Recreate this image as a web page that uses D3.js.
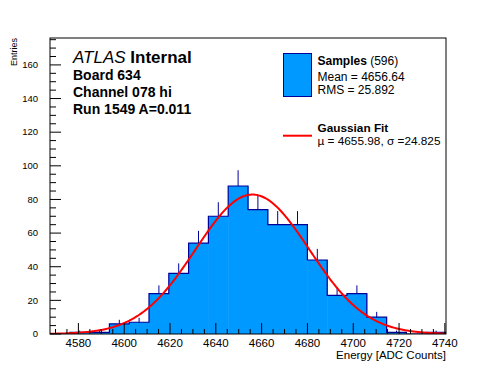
<!DOCTYPE html>
<html>
<head>
<meta charset="utf-8">
<script src="https://cdn.jsdelivr.net/npm/d3@7"></script>
<style>
  html, body { margin: 0; padding: 0; background: #fff; }
  svg { display: block; font-family: "Liberation Sans", Arial, Helvetica, sans-serif; }
</style>
</head>
<body>
<div id="chart"></div>
<script>
// ---- data ----
const BIN_COUNTS = [0, 1, 1, 6, 7, 24, 36, 54, 70, 88, 74, 65, 65, 44, 23, 24, 10, 1, 0, 1];
const X_RANGE = [4567.6, 4740.5];
const X_TICKS = [4580, 4600, 4620, 4640, 4660, 4680, 4700, 4720, 4740];
const Y_TICKS = [0, 20, 40, 60, 80, 100, 120, 140, 160];
const Y_MAX = 176;

// Gaussian fit parameters (from the legend)
const FIT_MU = 4655.98;
const FIT_SIGMA = 24.825;
const FIT_PEAK = 82.9;

const INFO_LINES = ['Board 634', 'Channel 078 hi', 'Run 1549 A=0.011'];

const W = 496, H = 372;
const margin = { top: 38, right: 50, bottom: 38, left: 50 };
const width = W - margin.left - margin.right;
const height = H - margin.top - margin.bottom;

const FILL = '#0099ff';
const LINE = '#000099';

const svg = d3.select('#chart').append('svg')
    .attr('width', W)
    .attr('height', H);

const g = svg.append('g')
    .attr('transform', `translate(${margin.left},${margin.top})`);

// --- Scales ---
const x = d3.scaleLinear().domain(X_RANGE).range([0, width]);
const y = d3.scaleLinear().domain([0, Y_MAX]).range([height, 0]);

const binW = (X_RANGE[1] - X_RANGE[0]) / BIN_COUNTS.length;
const bins = BIN_COUNTS.map((n, i) => ({
    x0: X_RANGE[0] + i * binW,
    x1: X_RANGE[0] + (i + 1) * binW,
    n
}));

g.append('clipPath').attr('id', 'clip')
    .append('rect').attr('width', width).attr('height', height);

const plot = g.append('g').attr('clip-path', 'url(#clip)');

// error bars first, so the fill hides the lower half
plot.selectAll('.err')
    .data(bins.filter(d => d.n > 0))
    .enter().append('line')
    .attr('x1', d => x((d.x0 + d.x1) / 2))
    .attr('x2', d => x((d.x0 + d.x1) / 2))
    .attr('y1', d => y(d.n - Math.sqrt(d.n)))
    .attr('y2', d => y(d.n + Math.sqrt(d.n)))
    .attr('stroke', LINE)
    .attr('stroke-width', 1);

// bar fill
plot.selectAll('.bar')
    .data(bins)
    .enter().append('rect')
    .attr('x', d => x(d.x0))
    .attr('y', d => y(d.n))
    .attr('width', d => x(d.x1) - x(d.x0) + 0.5)
    .attr('height', d => height - y(d.n))
    .attr('fill', FILL);

// step outline
const stepPts = [[X_RANGE[0], 0]]
    .concat(bins.map(d => [d.x0, d.n]))
    .concat([[X_RANGE[1], 0]]);
plot.append('path')
    .datum(stepPts)
    .attr('d', d3.line().x(d => x(d[0])).y(d => y(d[1])).curve(d3.curveStepAfter))
    .attr('fill', 'none')
    .attr('stroke', LINE)
    .attr('stroke-width', 1.2);

// --- Gaussian fit ---
const fitPts = d3.range(X_RANGE[0], X_RANGE[1] + 0.01, 0.5).map(v => [
    v, FIT_PEAK * Math.exp(-0.5 * Math.pow((v - FIT_MU) / FIT_SIGMA, 2))
]);
plot.append('path')
    .datum(fitPts)
    .attr('d', d3.line().x(d => x(d[0])).y(d => y(d[1])))
    .attr('fill', 'none')
    .attr('stroke', '#ff0000')
    .attr('stroke-width', 2);

// --- Frame ---
g.append('rect')
    .attr('x', 0).attr('y', 0)
    .attr('width', width).attr('height', height)
    .attr('fill', 'none')
    .attr('stroke', '#000')
    .attr('stroke-width', 1);

// --- Ticks (ROOT style, pointing inward) ---
const xMinor = d3.range(4570, 4741, 5);
g.selectAll('.xminor')
    .data(xMinor)
    .enter().append('line')
    .attr('x1', d => x(d)).attr('x2', d => x(d))
    .attr('y1', height)
    .attr('y2', d => height - (d % 20 === 0 ? 11 : 5))
    .attr('stroke', '#000');

g.selectAll('.xlab')
    .data(X_TICKS)
    .enter().append('text')
    .attr('x', d => x(d))
    .attr('y', height + 13)
    .attr('text-anchor', 'middle')
    .attr('font-size', 11.5)
    .text(d => d);

const yMinor = d3.range(0, Y_MAX + 0.1, 5);
g.selectAll('.yminor')
    .data(yMinor)
    .enter().append('line')
    .attr('x1', 0)
    .attr('x2', d => (d % 20 === 0 ? 11 : 6))
    .attr('y1', d => y(d)).attr('y2', d => y(d))
    .attr('stroke', '#000');

g.selectAll('.ylab')
    .data(Y_TICKS)
    .enter().append('text')
    .attr('x', -12)
    .attr('y', d => y(d) + 3.3)
    .attr('text-anchor', 'end')
    .attr('font-size', 9.5)
    .text(d => d);

// --- Axis titles ---
g.append('text')
    .attr('x', width)
    .attr('y', height + 25)
    .attr('text-anchor', 'end')
    .attr('font-size', 11.5)
    .text('Energy [ADC Counts]');

svg.append('text')
    .attr('transform', `translate(17,${margin.top}) rotate(-90)`)
    .attr('text-anchor', 'end')
    .attr('font-size', 9)
    .text('Entries');

// --- ATLAS label ---
const atlas = svg.append('text')
    .attr('x', 73)
    .attr('y', 62.5)
    .attr('font-size', 17);
atlas.append('tspan').attr('font-style', 'italic').text('ATLAS');
atlas.append('tspan').attr('font-weight', 'bold').text(' Internal');

INFO_LINES.forEach((line, i) => {
    svg.append('text')
        .attr('x', 73)
        .attr('y', 79.5 + i * 17.4)
        .attr('font-size', 14)
        .attr('font-weight', 'bold')
        .text(line);
});

// --- Legend ---
svg.append('rect')
    .attr('x', 283.5).attr('y', 53.5)
    .attr('width', 28).attr('height', 43)
    .attr('fill', FILL)
    .attr('stroke', LINE)
    .attr('stroke-width', 1);

const samp = svg.append('text').attr('x', 317.5).attr('y', 65).attr('font-size', 12);
samp.append('tspan').attr('font-weight', 'bold').text('Samples');
samp.append('tspan').text(' (596)');

svg.append('text').attr('x', 317.5).attr('y', 80.5).attr('font-size', 12).text('Mean = 4656.64');
svg.append('text').attr('x', 317.5).attr('y', 93.5).attr('font-size', 12).text('RMS = 25.892');

svg.append('line')
    .attr('x1', 283).attr('x2', 312)
    .attr('y1', 135.7).attr('y2', 135.7)
    .attr('stroke', '#ff0000')
    .attr('stroke-width', 2);

svg.append('text').attr('x', 317.5).attr('y', 132).attr('font-size', 11.8)
    .attr('font-weight', 'bold').text('Gaussian Fit');
svg.append('text').attr('x', 317.5).attr('y', 145).attr('font-size', 11.8)
    .text('\u00b5 = 4655.98, \u03c3 =24.825');
</script>
</body>
</html>
